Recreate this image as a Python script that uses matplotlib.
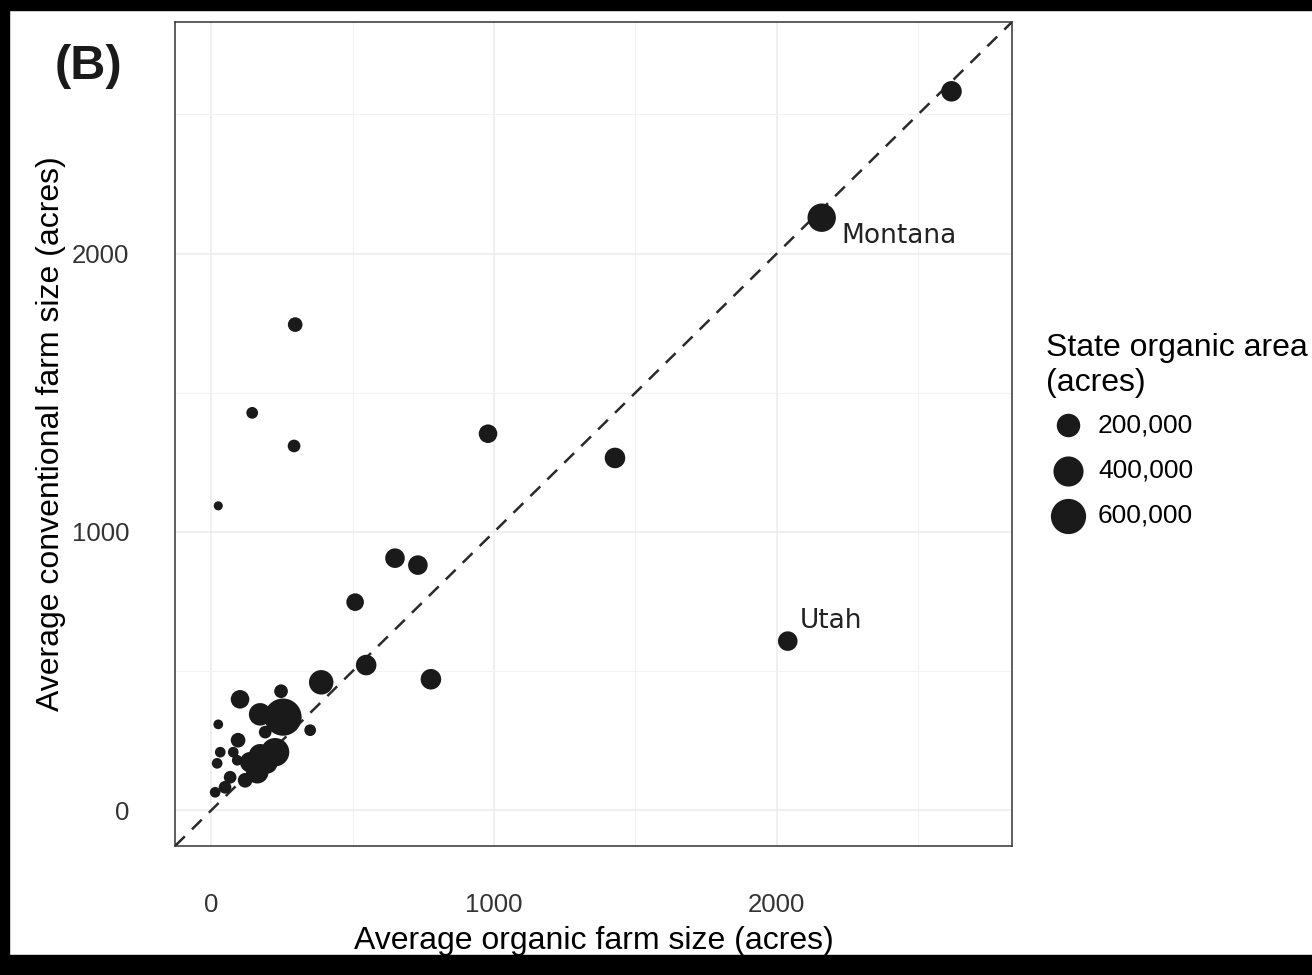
import numpy as np
import matplotlib
matplotlib.use("Agg")
import matplotlib.pyplot as plt
from matplotlib.patches import Rectangle

# average farm sizes (acres) and state organic area (acres)
organic = [2618, 2159, 297, 145, 293, 25, 979, 1428, 650, 731, 509, 548, 777, 2039, 389,
           102, 247, 173, 254, 350, 25, 191, 95, 32, 78, 226, 173, 138, 21, 163, 198,
           67, 49, 14, 120, 92]
conventional = [2583, 2129, 1745, 1428, 1309, 1094, 1353, 1266, 906, 881, 748, 522, 471, 608, 460,
                399, 428, 345, 335, 288, 309, 281, 252, 209, 209, 209, 198, 173, 169, 137, 169,
                119, 83, 65, 108, 180]
area = [133000, 341000, 40000, 14000, 21000, 2000, 96000, 133000, 114000, 114000, 80000,
        133000, 133000, 114000, 225000,
        96000, 30000, 176000, 690000, 14000, 4000, 21000, 40000, 8000, 8000, 341000, 176000,
        133000, 8000, 176000, 133000, 21000, 21000, 8000, 40000, 8000]
labels = {"Montana": (2159, 2129), "Utah": (2039, 608)}
legend_vals = [200000, 400000, 600000]
legend_labels = ["200,000", "400,000", "600,000"]

DPI = 100


def marker_size(a):
    # ggplot-like area scale: diameter grows with sqrt of value
    d_px = 7.5 + 16.0 * np.sqrt(np.asarray(a, dtype=float) / 200000)
    return (d_px * 72 / DPI) ** 2


plt.rcParams['font.family'] = ['Liberation Sans', 'DejaVu Sans']

fig = plt.figure(figsize=(13.12, 9.75), dpi=DPI)
ax = fig.add_axes([175 / 1312, 1 - 846 / 975, (1012 - 175) / 1312, (846 - 22) / 975])

lo, hi = -128, 2832
ax.set_xlim(lo, hi)
ax.set_ylim(lo, hi)

ax.set_xticks([0, 1000, 2000])
ax.set_yticks([0, 1000, 2000])
ax.set_xticks([500, 1500, 2500], minor=True)
ax.set_yticks([500, 1500, 2500], minor=True)
ax.grid(which='major', color='#ebebeb', lw=1.1)
ax.grid(which='minor', color='#f2f2f2', lw=0.8)
ax.set_axisbelow(True)
ax.tick_params(which='both', length=0)
ax.tick_params(axis='x', pad=34, labelsize=18.5, labelcolor='#333333')
ax.tick_params(axis='y', pad=33, labelsize=18.5, labelcolor='#333333')

for sp in ax.spines.values():
    sp.set_color('#333333')
    sp.set_linewidth(1.1)

ax.plot([lo, hi], [lo, hi], ls=(0, (5.5, 4)), color='#2a2a2a', lw=1.8, zorder=2)

ax.scatter(organic, conventional, s=marker_size(area), color='#1a1a1a', lw=0, zorder=3)

ax.annotate("Montana", labels["Montana"], xytext=(20, -25), textcoords='offset pixels',
            fontsize=19, family='DejaVu Sans', color='#222222')
ax.annotate("Utah", labels["Utah"], xytext=(12, 13), textcoords='offset pixels',
            fontsize=19, family='DejaVu Sans', color='#222222')

ax.set_xlabel("Average organic farm size (acres)", fontsize=23, labelpad=6)
ax.set_ylabel("Average conventional farm size (acres)", fontsize=23, labelpad=4)

handles = [ax.scatter([], [], s=marker_size(v), color='#1a1a1a', lw=0) for v in legend_vals]
leg = fig.legend(handles, legend_labels, title="State organic area\n(acres)",
                 loc='upper left', bbox_to_anchor=(1028 / 1312, 1 - 315 / 975),
                 frameon=False, fontsize=19, title_fontsize=23, alignment='left',
                 handletextpad=0.35, labelspacing=0.8, borderpad=0.2, handlelength=1.6)
leg._legend_box.sep = 11

fig.text(55 / 1312, 1 - 79 / 975, "(B)", fontsize=35, fontweight='bold', color='#1a1a1a')

# black scan border
fig.patches.append(Rectangle((0, 1 - 10 / 975), 1, 10 / 975, transform=fig.transFigure,
                             color='black', zorder=10))
fig.patches.append(Rectangle((0, 0), 1, 20 / 975, transform=fig.transFigure,
                             color='black', zorder=10))
fig.patches.append(Rectangle((0, 0), 9 / 1312, 1, transform=fig.transFigure,
                             color='black', zorder=10))

fig.savefig("out.png", dpi=DPI)
